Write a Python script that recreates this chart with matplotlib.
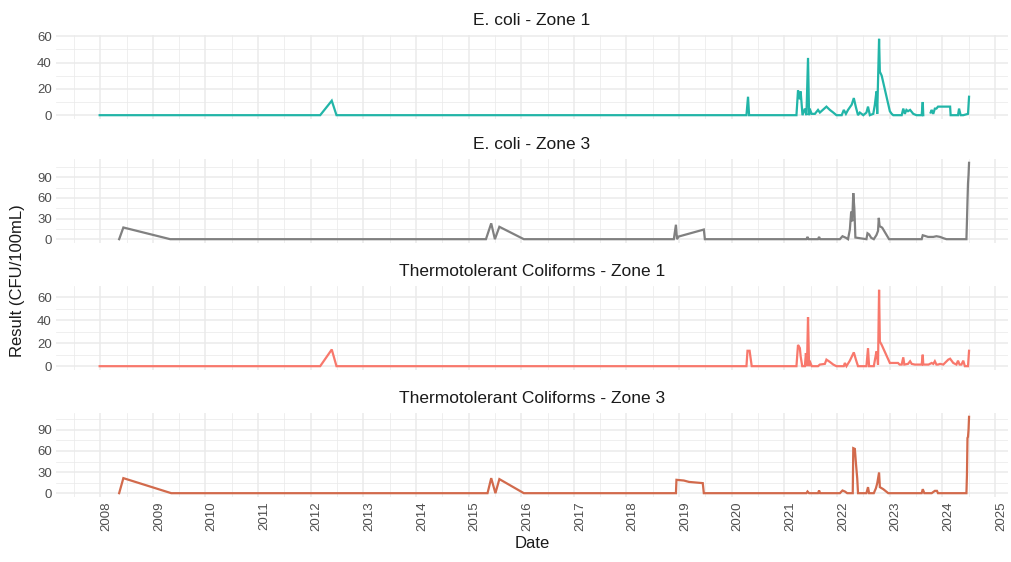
import numpy as np
import matplotlib
matplotlib.use("Agg")
import matplotlib.pyplot as plt
from matplotlib.ticker import MultipleLocator

plt.rcParams["font.family"] = ["Liberation Sans", "DejaVu Sans"]

# -------------------------------
# DATA (decimal years, CFU/100mL)
# -------------------------------

ec_z1_t = [2007.99, 2012.18, 2012.40, 2012.49, 2020.28, 2020.31, 2020.33,
           2021.23, 2021.26, 2021.295, 2021.31, 2021.345, 2021.39, 2021.42,
           2021.45, 2021.47, 2021.48, 2021.52, 2021.58, 2021.64, 2021.675,
           2021.80, 2021.865, 2021.93, 2021.99, 2022.09, 2022.13, 2022.17,
           2022.21, 2022.28, 2022.32, 2022.36, 2022.40, 2022.435, 2022.50,
           2022.56, 2022.59, 2022.625, 2022.69, 2022.72, 2022.75, 2022.765,
           2022.80, 2022.815, 2022.85, 2023.005, 2023.04, 2023.07, 2023.23,
           2023.26, 2023.29, 2023.32, 2023.35, 2023.39, 2023.45, 2023.51,
           2023.61, 2023.63, 2023.64, 2023.70, 2023.78, 2023.80, 2023.83,
           2023.86, 2023.89, 2023.92, 2024.15, 2024.16, 2024.30, 2024.32,
           2024.35, 2024.40, 2024.49, 2024.51]
ec_z1_v = [0, 0, 11, 0, 0, 14, 0,
           0, 19, 12, 18, 0, 5, 0,
           43.5, 0, 5, 1, 1, 4, 2,
           6.5, 4, 2, 0, 0, 4, 1,
           4, 8, 13, 6, 0, 2, 0,
           2, 6.5, 0, 1, 8, 18, 1,
           58, 33, 30, 3, 1, 0, 0,
           5, 1, 4, 3, 4, 1, 0,
           0, 10, 0, np.nan, 2, 4, 1,
           5, 5, 6.5, 6.5, 0, 0, 5,
           0, 0, 1, 14]

ec_z3_t = [2008.36, 2008.44, 2009.33, 2015.33, 2015.43, 2015.50, 2015.585,
           2016.05, 2018.90, 2018.94, 2018.96, 2018.99, 2019.47, 2019.49,
           2021.42, 2021.44, 2021.46, 2021.64, 2021.66, 2021.68, 2022.055,
           2022.105, 2022.17, 2022.21, 2022.245, 2022.27, 2022.29, 2022.31,
           2022.33, 2022.35, 2022.56, 2022.58, 2022.61, 2022.65, 2022.70,
           2022.75, 2022.78, 2022.795, 2022.81, 2022.86, 2022.99, 2023.61,
           2023.63, 2023.67, 2023.73, 2023.83, 2023.89, 2023.96, 2024.02,
           2024.08, 2024.46, 2024.47, 2024.48, 2024.49, 2024.50, 2024.51]
ec_z3_v = [0, 17, 0, 0, 23, 0, 18,
           0, 0, 21, 0, 3.8, 14, 0,
           0, 3.3, 0, 0, 3.3, 0, 0,
           4.3, 2, 0, 14, 40, 26, 67,
           45, 2.4, 0, 8.6, 7, 2, 0,
           6, 12, 31, 19, 16.7, 0, 0,
           5.7, 4.8, 3.3, 3.3, 4.3, 3.3, 1.5,
           0, 0, 26, 55, 81, 93, 111]

tc_z1_t = [2007.99, 2012.18, 2012.40, 2012.49, 2020.28, 2020.30, 2020.34,
           2020.38, 2021.23, 2021.26, 2021.295, 2021.31, 2021.34, 2021.39,
           2021.41, 2021.43, 2021.45, 2021.47, 2021.48, 2021.52, 2021.64,
           2021.675, 2021.77, 2021.80, 2021.865, 2021.93, 2021.99, 2022.13,
           2022.15, 2022.18, 2022.245, 2022.32, 2022.36, 2022.40, 2022.56,
           2022.59, 2022.61, 2022.70, 2022.75, 2022.765, 2022.78, 2022.80,
           2022.815, 2022.85, 2023.005, 2023.07, 2023.16, 2023.19, 2023.23,
           2023.26, 2023.28, 2023.35, 2023.39, 2023.42, 2023.48, 2023.61,
           2023.63, 2023.64, 2023.74, 2023.80, 2023.83, 2023.86, 2023.89,
           2023.92, 2023.96, 2024.02, 2024.115, 2024.15, 2024.21, 2024.27,
           2024.30, 2024.33, 2024.365, 2024.40, 2024.43, 2024.49, 2024.51]
tc_z1_v = [0, 0, 14.5, 0, 0, 13.4, 13.4,
           0, 0, 18.5, 15.7, 8.5, 0, 0,
           11.4, 0, 42.7, 0, 4.8, 0, 0,
           1.4, 2, 5.7, 3.7, 1.4, 0, 0,
           2.8, 0, 4.8, 12, 5.7, 0, 0,
           15.7, 0, 0, 12.8, 8.5, 1.4, 66.4,
           21.4, 18.5, 2.8, 2.8, 2.8, 1.4, 1.4,
           7.7, 1.4, 2, 4.3, 2, 1.4, 1.4,
           10, 1.4, 1.4, 2.8, 2, 4.3, 1.4,
           1.4, 2, 1.4, 5.7, 6.5, 2.8, 1.4,
           4.8, 1.4, 1.4, 4.8, 0, 0, 13.4]

tc_z3_t = [2008.36, 2008.44, 2009.35, 2015.36, 2015.43, 2015.51, 2015.585,
           2016.05, 2018.94, 2018.95, 2019.09, 2019.19, 2019.45, 2019.47,
           2021.42, 2021.44, 2021.47, 2021.64, 2021.66, 2021.68, 2022.055,
           2022.105, 2022.15, 2022.195, 2022.245, 2022.30, 2022.31, 2022.34,
           2022.36, 2022.385, 2022.40, 2022.56, 2022.59, 2022.61, 2022.70,
           2022.74, 2022.765, 2022.80, 2022.815, 2022.88, 2022.975, 2023.61,
           2023.63, 2023.66, 2023.80, 2023.86, 2023.90, 2023.92, 2024.46,
           2024.47, 2024.48, 2024.49, 2024.50, 2024.51]
tc_z3_v = [0, 21.4, 0, 0, 21.4, 0, 20,
           0, 0, 19, 18, 16, 14.3, 0,
           0, 2.4, 0, 0, 3.8, 0, 0,
           3.8, 2.4, 0, 0, 0, 64, 63,
           43, 21, 0, 0, 8.6, 0, 0,
           7, 14, 29.5, 8.6, 5.7, 0, 0,
           5.7, 0, 0, 3.3, 3.3, 0, 0,
           26, 78.6, 80, 90, 108.6]

titles = ["E. coli - Zone 1", "E. coli - Zone 3",
          "Thermotolerant Coliforms - Zone 1", "Thermotolerant Coliforms - Zone 3"]
series = [(ec_z1_t, ec_z1_v), (ec_z3_t, ec_z3_v), (tc_z1_t, tc_z1_v), (tc_z3_t, tc_z3_v)]
colors = ["#22B5A8", "#808080", "#F8786C", "#D26A4C"]
y_steps = [20, 30, 20, 30]
years = list(range(2008, 2026))

# -------------------------------
# LAYOUT (pixels -> figure coords)
# -------------------------------
W, H = 1011, 562
tops = [35, 159, 286, 413]
ph = 84
left, right = 56, 1008

fig = plt.figure(figsize=(W / 100, H / 100), dpi=100)

for i, (t, v) in enumerate(series):
    ax = fig.add_axes([left / W, 1 - (tops[i] + ph) / H, (right - left) / W, ph / H])
    ax.plot(t, v, color=colors[i], linewidth=1.6, solid_joinstyle="miter")

    ax.set_xlim(2007.16, 2025.25)
    vv = np.array(v, dtype=float)
    lo, hi = np.nanmin(vv), np.nanmax(vv)
    pad = 0.05 * (hi - lo)
    ax.set_ylim(lo - pad, hi + pad)

    ax.set_xticks(years)
    ax.xaxis.set_minor_locator(MultipleLocator(0.5))
    ax.yaxis.set_major_locator(MultipleLocator(y_steps[i]))
    ax.yaxis.set_minor_locator(MultipleLocator(y_steps[i] / 2))

    ax.grid(True, which="major", color="#EBEBEB", linewidth=1.1)
    ax.grid(True, which="minor", color="#EBEBEB", linewidth=0.55)
    ax.set_axisbelow(True)
    for s in ax.spines.values():
        s.set_visible(False)
    ax.tick_params(which="both", length=0, labelsize=9.5, labelcolor="#4D4D4D", pad=3)

    ax.set_title(titles[i], fontsize=12.5, color="#1A1A1A", pad=7)

    if i < 3:
        ax.set_xticklabels([])
    else:
        ax.set_xticklabels([str(y) for y in years], rotation=90, ha="left", va="top")
        ax.set_xlabel("Date", fontsize=12, color="#1A1A1A", labelpad=4)

fig.text(18 / W, 0.5, "Result (CFU/100mL)", rotation=90, ha="center", va="center",
         fontsize=12, color="#1A1A1A")

fig.savefig("out.png", dpi=100)
